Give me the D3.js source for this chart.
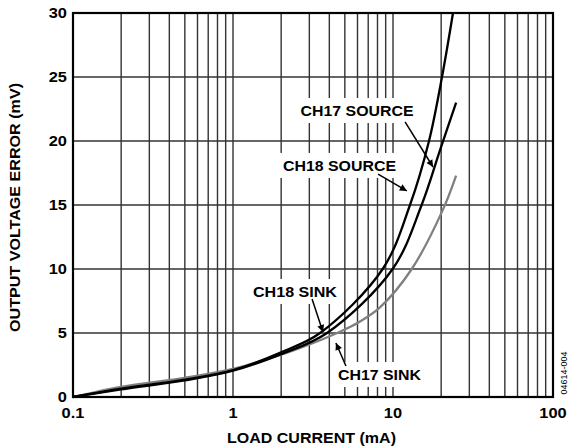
<!DOCTYPE html>
<html>
<head>
<meta charset="utf-8">
<script src="https://cdn.jsdelivr.net/npm/d3@7"></script>
<style>
html,body{margin:0;padding:0;background:#fff;}
svg{display:block;}
text{font-family:"Liberation Sans",Arial,Helvetica,sans-serif;font-weight:bold;fill:#000;}
</style>
</head>
<body>
<svg id="chart" width="570" height="447"></svg>
<script>
// ---- data (mA, mV) ----
const ch18Source = [[0.1,0],[0.2,0.65],[0.5,1.35],[1,2.1],[2,3.5],[3.5,5],[8.62,10],[12.77,15],[16.79,20],[20.24,25],[23.71,30]];
const ch17Source = [[0.1,0],[0.2,0.6],[0.5,1.3],[1,2.05],[2,3.35],[3.87,5],[9.95,10],[15.1,15],[19.7,19.3],[24.8,23.0]];
const ch17Sink   = [[0.1,0],[0.2,0.8],[0.5,1.5],[1,2.2],[2,3.3],[3,4.1],[4.47,5],[6.04,5.8],[8.29,7.0],[13.1,10],[20.45,14.6],[24.8,17.3]];
const xTickLabels = [0.1, 1, 10, 100];
const yTickLabels = [0, 5, 10, 15, 20, 25, 30];
const xTitle = "LOAD CURRENT (mA)";
const yTitle = "OUTPUT VOLTAGE ERROR (mV)";
// annotations: label position and arrow from/to, in data units
const labels = [
  {text:"CH17 SOURCE", at:[5.96,21.95], from:[11.9,21.5], to:[17.8,17.97], w:113},
  {text:"CH18 SOURCE", at:[4.63,17.66], from:[8.06,17.42], to:[12.2,16.1], w:113},
  {text:"CH18 SINK",   at:[2.44,7.81],  from:[3.12,7.66], to:[3.65,5.08], w:84},
  {text:"CH17 SINK",   at:[8.23,1.33],  from:[5.08,2.42], to:[4.40,4.22], w:83}
];
const series = [
  {data:ch17Sink, color:"#808080"},
  {data:ch17Source, color:"#000"},
  {data:ch18Source, color:"#000"}
];

const svg = d3.select("#chart");
const x = d3.scaleLog().domain([0.1,100]).range([73,553]);
const y = d3.scaleLinear().domain([0,30]).range([397,13]);

// grid
const gridX = [];
for (let d=0.1; d<100; d*=10) for (let k=1;k<10;k++) gridX.push(+(d*k).toPrecision(3));
gridX.push(100);
const grid = svg.append("g");
grid.selectAll("line.v").data(gridX).join("line")
  .attr("x1",d=>x(d)).attr("x2",d=>x(d)).attr("y1",y(0)).attr("y2",y(30))
  .attr("stroke","#333").attr("stroke-width",1.4);
grid.selectAll("line.h").data(yTickLabels).join("line")
  .attr("x1",x(0.1)).attr("x2",x(100)).attr("y1",d=>y(d)).attr("y2",d=>y(d))
  .attr("stroke","#333").attr("stroke-width",1.4);

const boxG = svg.append("g");
const curveG = svg.append("g");
const frameG = svg.append("g");
const annG = svg.append("g");

const labelTexts = labels.map(l=>annG.append("text")
    .attr("x", x(l.at[0])).attr("y", y(l.at[1]))
    .attr("text-anchor","middle").attr("font-size",15)
    .attr("textLength", l.w).attr("lengthAdjust","spacingAndGlyphs")
    .text(l.text));
labelTexts.forEach(t=>{
  const b = t.node().getBBox();
  boxG.append("rect").attr("x",b.x-4).attr("y",b.y-4).attr("width",b.width+8).attr("height",b.height+8).attr("fill","#fff");
});

// curves
const line = d3.line().x(d=>x(d[0])).y(d=>y(d[1])).curve(d3.curveCatmullRom.alpha(0.5));
curveG.selectAll("path").data(series).join("path")
  .attr("d",d=>line(d.data)).attr("fill","none")
  .attr("stroke",d=>d.color).attr("stroke-width",2.3).attr("stroke-linejoin","round");

// frame
frameG.append("rect").attr("x",x(0.1)).attr("y",y(30)).attr("width",x(100)-x(0.1)).attr("height",y(0)-y(30))
  .attr("fill","none").attr("stroke","#000").attr("stroke-width",2.2);

// arrows
svg.append("defs").append("marker").attr("id","ah")
  .attr("viewBox","0 0 10 10").attr("refX",10).attr("refY",5)
  .attr("markerWidth",10).attr("markerHeight",7).attr("markerUnits","userSpaceOnUse")
  .attr("orient","auto")
  .append("path").attr("d","M0,0 L10,5 L0,10 Z").attr("fill","#000");
annG.selectAll("line").data(labels).join("line")
  .attr("x1",d=>x(d.from[0])).attr("y1",d=>y(d.from[1]))
  .attr("x2",d=>x(d.to[0])).attr("y2",d=>y(d.to[1]))
  .attr("stroke","#000").attr("stroke-width",1.5).attr("marker-end","url(#ah)");

// tick labels
const tg = svg.append("g");
tg.selectAll("text.x").data(xTickLabels).join("text")
  .attr("x",d=>x(d)).attr("y",418).attr("text-anchor","middle").attr("font-size",14)
  .text(d=>d);
tg.selectAll("text.y").data(yTickLabels).join("text")
  .attr("x",67).attr("y",d=>y(d)).attr("dy","0.36em").attr("text-anchor","end").attr("font-size",14)
  .text(d=>d);
tg.selectAll("text").each(function(){
  const len = this.getComputedTextLength();
  d3.select(this).attr("textLength",len*1.17).attr("lengthAdjust","spacingAndGlyphs");
});

// axis titles
svg.append("text").attr("x",311.5).attr("y",443).attr("text-anchor","middle").attr("font-size",15)
  .attr("textLength",169).attr("lengthAdjust","spacingAndGlyphs").text(xTitle);
svg.append("text").attr("transform","translate(20,207.5) rotate(-90)").attr("text-anchor","middle").attr("font-size",15)
  .attr("textLength",249).attr("lengthAdjust","spacingAndGlyphs").text(yTitle);

// figure id
svg.append("text").attr("transform","translate(567,373) rotate(-90)").attr("text-anchor","middle")
  .attr("font-size",9).style("font-weight","normal").text("04614-004");
</script>
</body>
</html>
